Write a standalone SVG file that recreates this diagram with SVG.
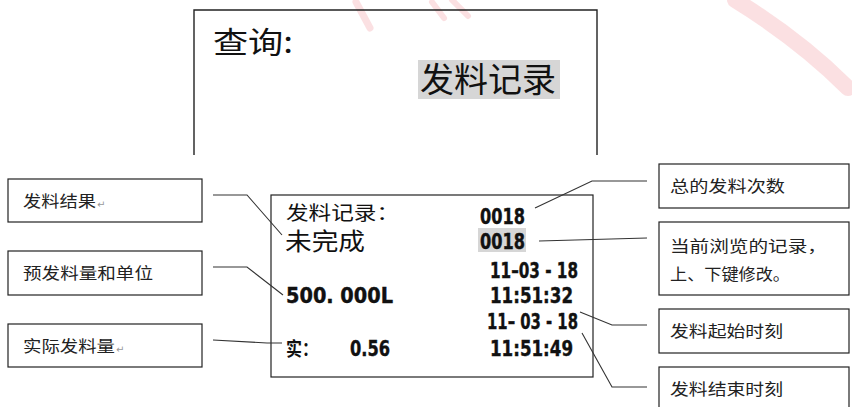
<svg xmlns="http://www.w3.org/2000/svg" width="852" height="407" viewBox="0 0 852 407">
<style>
.box{fill:#fff;stroke:#222;stroke-width:1.2}
.lbl{font-family:"Noto Sans CJK SC","Noto Sans CJK TC",sans-serif;font-size:16px;fill:#222}
.cjk{font-family:"Noto Sans CJK SC","Noto Sans CJK TC",sans-serif;fill:#111}
.dig{font-family:"Liberation Sans Narrow","DejaVu Sans Condensed","Liberation Sans",sans-serif;font-weight:bold;font-size:22px;fill:#111;stroke:#111;stroke-width:0.4}
.pm{font-family:"DejaVu Sans",sans-serif;font-size:10px;fill:#999}
.con{fill:none;stroke:#333;stroke-width:1.1}
.wm{fill:none;stroke:#f7c6cb;stroke-linecap:round;opacity:0.55}
</style>
<rect width="852" height="407" fill="#fff"/>
<g id="watermark">
<path class="wm" stroke-width="7" d="M356,2 L370,28"/>
<path class="wm" stroke-width="6" d="M432,2 L444,18 M452,0 L468,16"/>
<path class="wm" stroke-width="16" d="M735,0 Q800,40 848,88"/>
</g>
<g id="query-screen">
<path d="M194,155 L194,10 L597,10 L597,155" fill="none" stroke="#222" stroke-width="1.4"/>
<text class="cjk" x="213" y="53" font-size="30" textLength="80" lengthAdjust="spacingAndGlyphs">查询:</text>
<rect x="418" y="60" width="142" height="39" fill="#d6d6d6"/>
<text class="cjk" x="420" y="92" font-size="34" textLength="136" lengthAdjust="spacingAndGlyphs">发料记录</text>
</g>
<g id="record-screen">
<rect class="box" x="271" y="195" width="322" height="182" stroke-width="1.4"/>
<text class="cjk" x="286" y="220" font-size="19" textLength="113" lengthAdjust="spacingAndGlyphs">发料记录：</text>
<text class="cjk" x="285" y="250" font-size="24" textLength="80" lengthAdjust="spacingAndGlyphs">未完成</text>
<text class="dig" x="480" y="224" textLength="45" lengthAdjust="spacingAndGlyphs">0018</text>
<rect x="478" y="228" width="48" height="24" fill="#d6d6d6"/>
<text class="dig" x="480" y="249" textLength="45" lengthAdjust="spacingAndGlyphs">0018</text>
<text class="dig" x="490" y="278" textLength="88" lengthAdjust="spacingAndGlyphs">11–03 - 18</text>
<text class="dig" x="490" y="303" textLength="83" lengthAdjust="spacingAndGlyphs">11:51:32</text>
<text class="dig" x="487" y="329" textLength="91" lengthAdjust="spacingAndGlyphs">11– 03 - 18</text>
<text class="dig" x="490" y="356" textLength="83" lengthAdjust="spacingAndGlyphs">11:51:49</text>
<text class="dig" x="286" y="303" textLength="107" lengthAdjust="spacingAndGlyphs">500.  000L</text>
<text class="cjk" x="286" y="356" font-size="19" font-weight="bold" textLength="32" lengthAdjust="spacingAndGlyphs">实：</text>
<text class="dig" x="350" y="356" textLength="40" lengthAdjust="spacingAndGlyphs">0.56</text>
</g>
<g id="label-result">
<rect class="box" x="8" y="179" width="194" height="43"/>
<text class="lbl" x="23" y="207" textLength="73" lengthAdjust="spacingAndGlyphs">发料结果</text>
<text class="pm" x="97" y="208">↵</text>
</g>
<g id="label-preset">
<rect class="box" x="8" y="251" width="194" height="44"/>
<text class="lbl" x="23" y="279" textLength="130" lengthAdjust="spacingAndGlyphs">预发料量和单位</text>
</g>
<g id="label-actual">
<rect class="box" x="8" y="324" width="194" height="43"/>
<text class="lbl" x="23" y="352" textLength="92" lengthAdjust="spacingAndGlyphs">实际发料量</text>
<text class="pm" x="116" y="353">↵</text>
</g>
<g id="label-total">
<rect class="box" x="659" y="164" width="190" height="44"/>
<text class="lbl" x="670" y="192" textLength="115" lengthAdjust="spacingAndGlyphs">总的发料次数</text>
</g>
<g id="label-current">
<rect class="box" x="659" y="222" width="190" height="73"/>
<text class="lbl" x="670" y="252" textLength="157" lengthAdjust="spacingAndGlyphs">当前浏览的记录，</text>
<text class="lbl" x="670" y="280" textLength="120" lengthAdjust="spacingAndGlyphs">上、下键修改。</text>
</g>
<g id="label-start">
<rect class="box" x="659" y="309" width="190" height="44"/>
<text class="lbl" x="670" y="337" textLength="113" lengthAdjust="spacingAndGlyphs">发料起始时刻</text>
</g>
<g id="label-end">
<rect class="box" x="659" y="367" width="190" height="50"/>
<text class="lbl" x="670" y="395" textLength="113" lengthAdjust="spacingAndGlyphs">发料结束时刻</text>
</g>
<g id="connectors">
<polyline class="con" points="213,195 247,195 282,235"/>
<polyline class="con" points="213,267 247,267 283,295"/>
<polyline class="con" points="213,340 267,343 282,343"/>
<polyline class="con" points="647,181 592,181 535,208"/>
<polyline class="con" points="647,238 539,241"/>
<polyline class="con" points="647,325 612,325 580,312"/>
<polyline class="con" points="647,387 612,387 582,333"/>
</g>
</svg>
